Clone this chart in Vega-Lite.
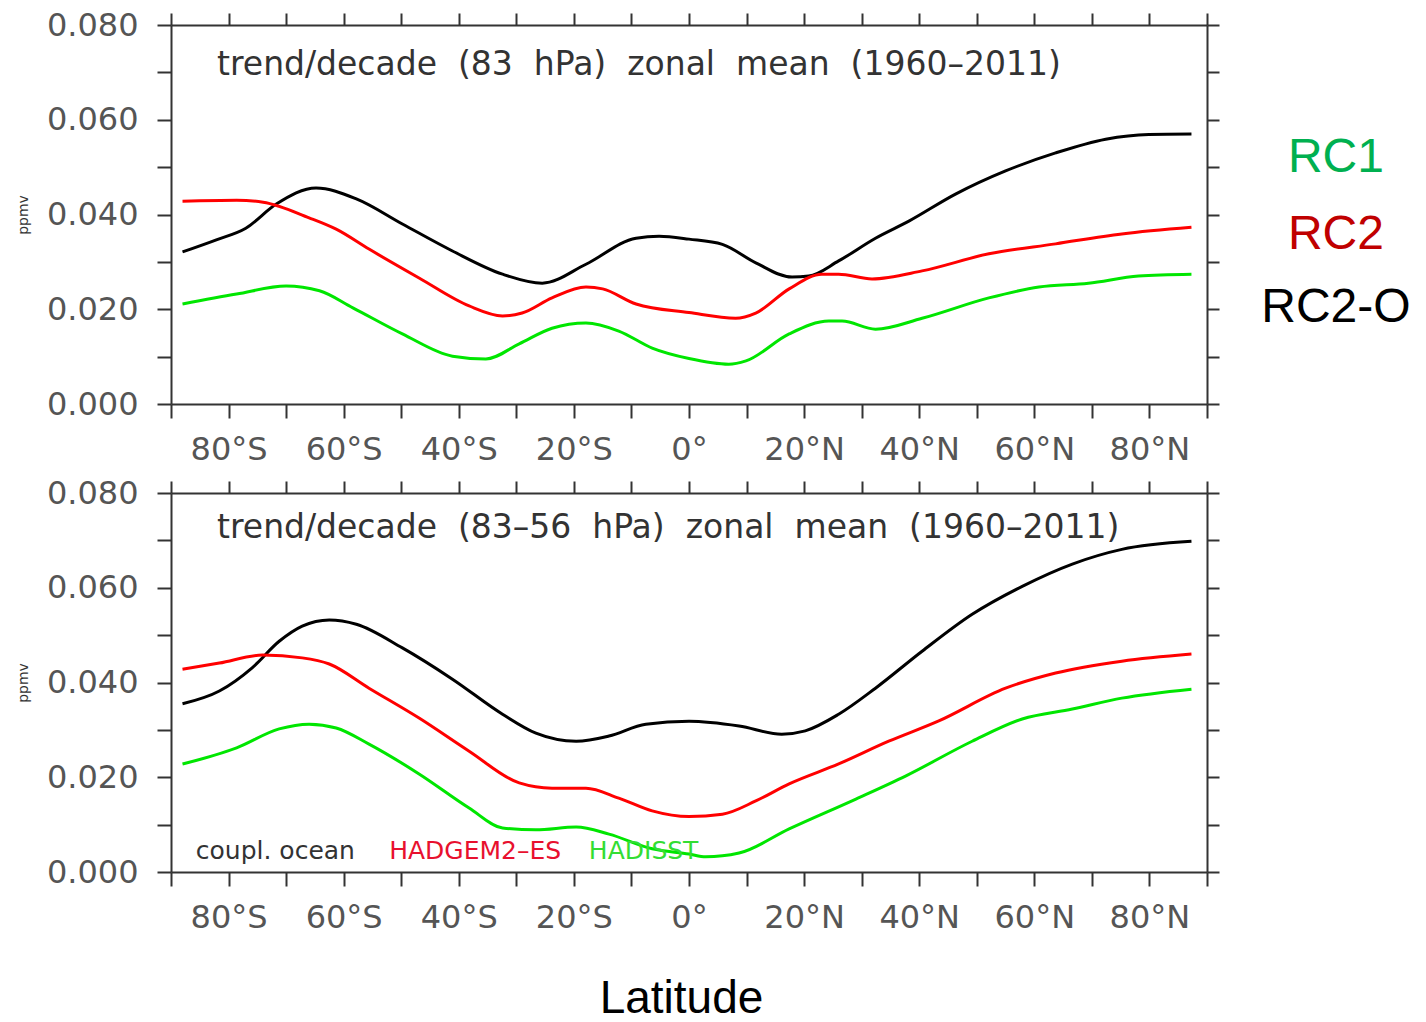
{
  "$schema": "https://vega.github.io/schema/vega-lite/v6.json",
  "background": "white",
  "padding": {"left": 16, "top": 9, "right": 5, "bottom": 0},
  "bounds": "flush",
  "spacing": 89,
  "config": {
    "view": {"stroke": null},
    "axis": {
      "grid": false,
      "domainColor": "#333333",
      "domainWidth": 2,
      "tickColor": "#333333",
      "tickWidth": 2,
      "labelFont": "DejaVu Sans",
      "labelFontSize": 32,
      "labelColor": "#555555",
      "labelOverlap": false,
      "labelBound": false,
      "labelFlush": false
    }
  },
  "datasets": {
    "curves": [
      {"panel": "top", "series": "coupl. ocean", "lat": -88, "value": 0.0321},
      {"panel": "top", "series": "coupl. ocean", "lat": -82, "value": 0.0347},
      {"panel": "top", "series": "coupl. ocean", "lat": -77, "value": 0.0371},
      {"panel": "top", "series": "coupl. ocean", "lat": -71.7, "value": 0.0422},
      {"panel": "top", "series": "coupl. ocean", "lat": -64.8, "value": 0.0456},
      {"panel": "top", "series": "coupl. ocean", "lat": -57.8, "value": 0.0433},
      {"panel": "top", "series": "coupl. ocean", "lat": -49.8, "value": 0.038},
      {"panel": "top", "series": "coupl. ocean", "lat": -41.1, "value": 0.0323},
      {"panel": "top", "series": "coupl. ocean", "lat": -32.4, "value": 0.0274},
      {"panel": "top", "series": "coupl. ocean", "lat": -25.5, "value": 0.0255},
      {"panel": "top", "series": "coupl. ocean", "lat": -17.9, "value": 0.0295},
      {"panel": "top", "series": "coupl. ocean", "lat": -9.2, "value": 0.035},
      {"panel": "top", "series": "coupl. ocean", "lat": -5.2, "value": 0.0354},
      {"panel": "top", "series": "coupl. ocean", "lat": 0, "value": 0.0348},
      {"panel": "top", "series": "coupl. ocean", "lat": 5.8, "value": 0.0337},
      {"panel": "top", "series": "coupl. ocean", "lat": 11.6, "value": 0.0298},
      {"panel": "top", "series": "coupl. ocean", "lat": 17.9, "value": 0.0268},
      {"panel": "top", "series": "coupl. ocean", "lat": 20.8, "value": 0.027},
      {"panel": "top", "series": "coupl. ocean", "lat": 26, "value": 0.0302},
      {"panel": "top", "series": "coupl. ocean", "lat": 32.4, "value": 0.035},
      {"panel": "top", "series": "coupl. ocean", "lat": 38.2, "value": 0.0386},
      {"panel": "top", "series": "coupl. ocean", "lat": 46.3, "value": 0.0443},
      {"panel": "top", "series": "coupl. ocean", "lat": 55, "value": 0.0492},
      {"panel": "top", "series": "coupl. ocean", "lat": 63.7, "value": 0.053},
      {"panel": "top", "series": "coupl. ocean", "lat": 72.4, "value": 0.0559},
      {"panel": "top", "series": "coupl. ocean", "lat": 79.9, "value": 0.0569},
      {"panel": "top", "series": "coupl. ocean", "lat": 87.3, "value": 0.057},

      {"panel": "top", "series": "HADGEM2-ES", "lat": -88, "value": 0.0428},
      {"panel": "top", "series": "HADGEM2-ES", "lat": -78.6, "value": 0.043},
      {"panel": "top", "series": "HADGEM2-ES", "lat": -74, "value": 0.0426},
      {"panel": "top", "series": "HADGEM2-ES", "lat": -66, "value": 0.0393},
      {"panel": "top", "series": "HADGEM2-ES", "lat": -61.3, "value": 0.0369},
      {"panel": "top", "series": "HADGEM2-ES", "lat": -55.6, "value": 0.0327},
      {"panel": "top", "series": "HADGEM2-ES", "lat": -46.9, "value": 0.0266},
      {"panel": "top", "series": "HADGEM2-ES", "lat": -38.2, "value": 0.0207},
      {"panel": "top", "series": "HADGEM2-ES", "lat": -32.4, "value": 0.0186},
      {"panel": "top", "series": "HADGEM2-ES", "lat": -29, "value": 0.0192},
      {"panel": "top", "series": "HADGEM2-ES", "lat": -23.8, "value": 0.0224},
      {"panel": "top", "series": "HADGEM2-ES", "lat": -17.9, "value": 0.0247},
      {"panel": "top", "series": "HADGEM2-ES", "lat": -15, "value": 0.0243},
      {"panel": "top", "series": "HADGEM2-ES", "lat": -9.2, "value": 0.0211},
      {"panel": "top", "series": "HADGEM2-ES", "lat": 0, "value": 0.0193},
      {"panel": "top", "series": "HADGEM2-ES", "lat": 8.1, "value": 0.0181},
      {"panel": "top", "series": "HADGEM2-ES", "lat": 11.6, "value": 0.0192},
      {"panel": "top", "series": "HADGEM2-ES", "lat": 17.4, "value": 0.0243},
      {"panel": "top", "series": "HADGEM2-ES", "lat": 23.1, "value": 0.0274},
      {"panel": "top", "series": "HADGEM2-ES", "lat": 26, "value": 0.0274},
      {"panel": "top", "series": "HADGEM2-ES", "lat": 31.8, "value": 0.0264},
      {"panel": "top", "series": "HADGEM2-ES", "lat": 40.5, "value": 0.0281},
      {"panel": "top", "series": "HADGEM2-ES", "lat": 52.1, "value": 0.0317},
      {"panel": "top", "series": "HADGEM2-ES", "lat": 63.7, "value": 0.0338},
      {"panel": "top", "series": "HADGEM2-ES", "lat": 75.2, "value": 0.0359},
      {"panel": "top", "series": "HADGEM2-ES", "lat": 87.3, "value": 0.0373},

      {"panel": "top", "series": "HADISST", "lat": -88, "value": 0.0211},
      {"panel": "top", "series": "HADISST", "lat": -78.6, "value": 0.0232},
      {"panel": "top", "series": "HADISST", "lat": -70, "value": 0.0249},
      {"panel": "top", "series": "HADISST", "lat": -64.2, "value": 0.0239},
      {"panel": "top", "series": "HADISST", "lat": -58.4, "value": 0.0203},
      {"panel": "top", "series": "HADISST", "lat": -49.8, "value": 0.0148},
      {"panel": "top", "series": "HADISST", "lat": -41.1, "value": 0.0101},
      {"panel": "top", "series": "HADISST", "lat": -35.3, "value": 0.0095},
      {"panel": "top", "series": "HADISST", "lat": -29.5, "value": 0.0127},
      {"panel": "top", "series": "HADISST", "lat": -23.8, "value": 0.016},
      {"panel": "top", "series": "HADISST", "lat": -17.9, "value": 0.0171},
      {"panel": "top", "series": "HADISST", "lat": -12.2, "value": 0.0154},
      {"panel": "top", "series": "HADISST", "lat": -6.4, "value": 0.0118},
      {"panel": "top", "series": "HADISST", "lat": 0, "value": 0.0096},
      {"panel": "top", "series": "HADISST", "lat": 6.9, "value": 0.0084},
      {"panel": "top", "series": "HADISST", "lat": 9.9, "value": 0.0091},
      {"panel": "top", "series": "HADISST", "lat": 17.4, "value": 0.0148},
      {"panel": "top", "series": "HADISST", "lat": 24.3, "value": 0.0175},
      {"panel": "top", "series": "HADISST", "lat": 26.6, "value": 0.0175},
      {"panel": "top", "series": "HADISST", "lat": 32.4, "value": 0.0158},
      {"panel": "top", "series": "HADISST", "lat": 40.5, "value": 0.0181},
      {"panel": "top", "series": "HADISST", "lat": 52.1, "value": 0.0224},
      {"panel": "top", "series": "HADISST", "lat": 60.8, "value": 0.0247},
      {"panel": "top", "series": "HADISST", "lat": 69.4, "value": 0.0255},
      {"panel": "top", "series": "HADISST", "lat": 78.1, "value": 0.027},
      {"panel": "top", "series": "HADISST", "lat": 87.3, "value": 0.0274},

      {"panel": "bottom", "series": "coupl. ocean", "lat": -88, "value": 0.0355},
      {"panel": "bottom", "series": "coupl. ocean", "lat": -81.6, "value": 0.0382},
      {"panel": "bottom", "series": "coupl. ocean", "lat": -75.9, "value": 0.0431},
      {"panel": "bottom", "series": "coupl. ocean", "lat": -71.2, "value": 0.0487},
      {"panel": "bottom", "series": "coupl. ocean", "lat": -67.2, "value": 0.0519},
      {"panel": "bottom", "series": "coupl. ocean", "lat": -62.5, "value": 0.0532},
      {"panel": "bottom", "series": "coupl. ocean", "lat": -57.8, "value": 0.0523},
      {"panel": "bottom", "series": "coupl. ocean", "lat": -49.8, "value": 0.0473},
      {"panel": "bottom", "series": "coupl. ocean", "lat": -41.1, "value": 0.0407},
      {"panel": "bottom", "series": "coupl. ocean", "lat": -32.4, "value": 0.0333},
      {"panel": "bottom", "series": "coupl. ocean", "lat": -26.6, "value": 0.0293},
      {"panel": "bottom", "series": "coupl. ocean", "lat": -19.6, "value": 0.0276},
      {"panel": "bottom", "series": "coupl. ocean", "lat": -13.9, "value": 0.0287},
      {"panel": "bottom", "series": "coupl. ocean", "lat": -7.5, "value": 0.0312},
      {"panel": "bottom", "series": "coupl. ocean", "lat": 0, "value": 0.0318},
      {"panel": "bottom", "series": "coupl. ocean", "lat": 8.7, "value": 0.0308},
      {"panel": "bottom", "series": "coupl. ocean", "lat": 16.1, "value": 0.0291},
      {"panel": "bottom", "series": "coupl. ocean", "lat": 20.2, "value": 0.0298},
      {"panel": "bottom", "series": "coupl. ocean", "lat": 26, "value": 0.0333},
      {"panel": "bottom", "series": "coupl. ocean", "lat": 32.4, "value": 0.0388},
      {"panel": "bottom", "series": "coupl. ocean", "lat": 40.5, "value": 0.0466},
      {"panel": "bottom", "series": "coupl. ocean", "lat": 49.2, "value": 0.0544},
      {"panel": "bottom", "series": "coupl. ocean", "lat": 57.9, "value": 0.0603},
      {"panel": "bottom", "series": "coupl. ocean", "lat": 66.6, "value": 0.065},
      {"panel": "bottom", "series": "coupl. ocean", "lat": 75.2, "value": 0.0681},
      {"panel": "bottom", "series": "coupl. ocean", "lat": 87.3, "value": 0.0698},

      {"panel": "bottom", "series": "HADGEM2-ES", "lat": -88, "value": 0.0428},
      {"panel": "bottom", "series": "HADGEM2-ES", "lat": -81.6, "value": 0.0441},
      {"panel": "bottom", "series": "HADGEM2-ES", "lat": -74.1, "value": 0.0458},
      {"panel": "bottom", "series": "HADGEM2-ES", "lat": -67.2, "value": 0.0452},
      {"panel": "bottom", "series": "HADGEM2-ES", "lat": -62.5, "value": 0.0439},
      {"panel": "bottom", "series": "HADGEM2-ES", "lat": -55.6, "value": 0.0388},
      {"panel": "bottom", "series": "HADGEM2-ES", "lat": -46.9, "value": 0.0325},
      {"panel": "bottom", "series": "HADGEM2-ES", "lat": -38.2, "value": 0.0255},
      {"panel": "bottom", "series": "HADGEM2-ES", "lat": -29.5, "value": 0.0188},
      {"panel": "bottom", "series": "HADGEM2-ES", "lat": -23.8, "value": 0.0177},
      {"panel": "bottom", "series": "HADGEM2-ES", "lat": -17.9, "value": 0.0177},
      {"panel": "bottom", "series": "HADGEM2-ES", "lat": -12.2, "value": 0.0156},
      {"panel": "bottom", "series": "HADGEM2-ES", "lat": -6.4, "value": 0.0129},
      {"panel": "bottom", "series": "HADGEM2-ES", "lat": 0, "value": 0.0117},
      {"panel": "bottom", "series": "HADGEM2-ES", "lat": 5.8, "value": 0.0122},
      {"panel": "bottom", "series": "HADGEM2-ES", "lat": 11.6, "value": 0.015},
      {"panel": "bottom", "series": "HADGEM2-ES", "lat": 17.4, "value": 0.0186},
      {"panel": "bottom", "series": "HADGEM2-ES", "lat": 26, "value": 0.0228},
      {"panel": "bottom", "series": "HADGEM2-ES", "lat": 34.7, "value": 0.0276},
      {"panel": "bottom", "series": "HADGEM2-ES", "lat": 43.4, "value": 0.0319},
      {"panel": "bottom", "series": "HADGEM2-ES", "lat": 55, "value": 0.0388},
      {"panel": "bottom", "series": "HADGEM2-ES", "lat": 63.7, "value": 0.042},
      {"panel": "bottom", "series": "HADGEM2-ES", "lat": 75.2, "value": 0.0445},
      {"panel": "bottom", "series": "HADGEM2-ES", "lat": 87.3, "value": 0.046},

      {"panel": "bottom", "series": "HADISST", "lat": -88, "value": 0.0228},
      {"panel": "bottom", "series": "HADISST", "lat": -78.6, "value": 0.0262},
      {"panel": "bottom", "series": "HADISST", "lat": -71.2, "value": 0.0302},
      {"panel": "bottom", "series": "HADISST", "lat": -66, "value": 0.0312},
      {"panel": "bottom", "series": "HADISST", "lat": -61.3, "value": 0.0304},
      {"panel": "bottom", "series": "HADISST", "lat": -55.6, "value": 0.027},
      {"panel": "bottom", "series": "HADISST", "lat": -46.9, "value": 0.0207},
      {"panel": "bottom", "series": "HADISST", "lat": -38.2, "value": 0.0135},
      {"panel": "bottom", "series": "HADISST", "lat": -32.4, "value": 0.0093},
      {"panel": "bottom", "series": "HADISST", "lat": -26.6, "value": 0.0089},
      {"panel": "bottom", "series": "HADISST", "lat": -19.6, "value": 0.0095},
      {"panel": "bottom", "series": "HADISST", "lat": -13.9, "value": 0.008},
      {"panel": "bottom", "series": "HADISST", "lat": -6.4, "value": 0.0049},
      {"panel": "bottom", "series": "HADISST", "lat": 0, "value": 0.0038},
      {"panel": "bottom", "series": "HADISST", "lat": 2.9, "value": 0.0032},
      {"panel": "bottom", "series": "HADISST", "lat": 8.7, "value": 0.004},
      {"panel": "bottom", "series": "HADISST", "lat": 17.4, "value": 0.0091},
      {"panel": "bottom", "series": "HADISST", "lat": 29, "value": 0.0154},
      {"panel": "bottom", "series": "HADISST", "lat": 37.7, "value": 0.0203},
      {"panel": "bottom", "series": "HADISST", "lat": 49.2, "value": 0.0276},
      {"panel": "bottom", "series": "HADISST", "lat": 57.9, "value": 0.0323},
      {"panel": "bottom", "series": "HADISST", "lat": 66.6, "value": 0.0344},
      {"panel": "bottom", "series": "HADISST", "lat": 75.2, "value": 0.0367},
      {"panel": "bottom", "series": "HADISST", "lat": 87.3, "value": 0.0386}
    ]
  },
  "vconcat": [
    {
      "width": 1036,
      "height": 379,
      "data": {"name": "curves"},
      "transform": [{"filter": "datum.panel == 'top'"}],
      "resolve": {"axis": {"x": "independent", "y": "independent"}},
      "layer": [
        {
          "mark": {"type": "line", "interpolate": "monotone", "strokeWidth": 3},
          "encoding": {
            "x": {"field": "lat", "type": "quantitative", "scale": {"domain": [-90, 90], "nice": false, "zero": false},
              "axis": {"orient": "bottom", "title": null, "values": [-90,-80,-70,-60,-50,-40,-30,-20,-10,0,10,20,30,40,50,60,70,80,90], "tickSize": 14, "labelPadding": 16,
                "labelExpr": "(datum.value % 20 == 0 && abs(datum.value) < 90) ? (datum.value == 0 ? '0°' : abs(datum.value) + (datum.value < 0 ? '°S' : '°N')) : ''"}},
            "y": {"field": "value", "type": "quantitative", "scale": {"domain": [0, 0.08], "nice": false, "zero": false},
              "axis": {"orient": "left", "values": [0,0.01,0.02,0.03,0.04,0.05,0.06,0.07,0.08], "tickSize": 14, "labelPadding": 19,
                "labelExpr": "(round(datum.value*100) % 2 == 0) ? format(datum.value, '.3f') : ''",
                "title": "ppmv", "titleFont": "DejaVu Sans", "titleFontSize": 14, "titleFontWeight": "normal", "titleColor": "#333333",
                "titleAngle": -90, "titleX": -144, "titleY": 189.5, "titleAlign": "center", "titleBaseline": "alphabetic"}},
            "color": {"field": "series", "type": "nominal", "scale": {"domain": ["coupl. ocean", "HADGEM2-ES", "HADISST"], "range": ["#000000", "#ff0000", "#00e600"]}, "legend": null}
          }
        },
        {
          "mark": {"type": "line", "opacity": 0},
          "encoding": {
            "x": {"field": "lat", "type": "quantitative", "axis": {"orient": "top", "title": null, "values": [-90,-80,-70,-60,-50,-40,-30,-20,-10,0,10,20,30,40,50,60,70,80,90], "tickSize": 12, "labels": false}},
            "y": {"field": "value", "type": "quantitative", "axis": {"orient": "right", "title": null, "values": [0,0.01,0.02,0.03,0.04,0.05,0.06,0.07,0.08], "tickSize": 12, "labels": false}},
            "detail": {"field": "series"}
          }
        },
        {
          "data": {"values": [{}]},
          "mark": {"type": "text", "align": "left", "baseline": "alphabetic", "font": "DejaVu Sans", "fontSize": 33, "color": "#333333"},
          "encoding": {
            "x": {"datum": -82, "axis": null},
            "y": {"datum": 0.0694, "axis": null},
            "text": {"value": "trend/decade \u00a0(83 \u00a0hPa) \u00a0zonal \u00a0mean \u00a0(1960–2011)"}
          }
        },
        {
          "data": {"values": [{}]},
          "mark": {"type": "text", "align": "center", "baseline": "alphabetic", "font": "Liberation Sans", "fontSize": 48, "color": "#00b050"},
          "encoding": {"x": {"datum": 112.4, "axis": null}, "y": {"datum": 0.049, "axis": null}, "text": {"value": "RC1"}}
        },
        {
          "data": {"values": [{}]},
          "mark": {"type": "text", "align": "center", "baseline": "alphabetic", "font": "Liberation Sans", "fontSize": 48, "color": "#c00000"},
          "encoding": {"x": {"datum": 112.4, "axis": null}, "y": {"datum": 0.0327, "axis": null}, "text": {"value": "RC2"}}
        },
        {
          "data": {"values": [{}]},
          "mark": {"type": "text", "align": "center", "baseline": "alphabetic", "font": "Liberation Sans", "fontSize": 48, "color": "#000000"},
          "encoding": {"x": {"datum": 112.4, "axis": null}, "y": {"datum": 0.0173, "axis": null}, "text": {"value": "RC2-O"}}
        }
      ]
    },
    {
      "width": 1036,
      "height": 379,
      "data": {"name": "curves"},
      "transform": [{"filter": "datum.panel == 'bottom'"}],
      "resolve": {"axis": {"x": "independent", "y": "independent"}},
      "layer": [
        {
          "mark": {"type": "line", "interpolate": "monotone", "strokeWidth": 3},
          "encoding": {
            "x": {"field": "lat", "type": "quantitative", "scale": {"domain": [-90, 90], "nice": false, "zero": false},
              "axis": {"orient": "bottom", "values": [-90,-80,-70,-60,-50,-40,-30,-20,-10,0,10,20,30,40,50,60,70,80,90], "tickSize": 14, "labelPadding": 16,
                "labelExpr": "(datum.value % 20 == 0 && abs(datum.value) < 90) ? (datum.value == 0 ? '0°' : abs(datum.value) + (datum.value < 0 ? '°S' : '°N')) : ''",
                "title": "Latitude", "titleFont": "Liberation Sans", "titleFontSize": 46, "titleFontWeight": "normal", "titleColor": "#000000",
                "titleX": 510, "titleY": 150, "titleAlign": "center", "titleBaseline": "bottom"}},
            "y": {"field": "value", "type": "quantitative", "scale": {"domain": [0, 0.08], "nice": false, "zero": false},
              "axis": {"orient": "left", "values": [0,0.01,0.02,0.03,0.04,0.05,0.06,0.07,0.08], "tickSize": 14, "labelPadding": 19,
                "labelExpr": "(round(datum.value*100) % 2 == 0) ? format(datum.value, '.3f') : ''",
                "title": "ppmv", "titleFont": "DejaVu Sans", "titleFontSize": 14, "titleFontWeight": "normal", "titleColor": "#333333",
                "titleAngle": -90, "titleX": -144, "titleY": 189.5, "titleAlign": "center", "titleBaseline": "alphabetic"}},
            "color": {"field": "series", "type": "nominal", "scale": {"domain": ["coupl. ocean", "HADGEM2-ES", "HADISST"], "range": ["#000000", "#ff0000", "#00e600"]}, "legend": null}
          }
        },
        {
          "mark": {"type": "line", "opacity": 0},
          "encoding": {
            "x": {"field": "lat", "type": "quantitative", "axis": {"orient": "top", "title": null, "values": [-90,-80,-70,-60,-50,-40,-30,-20,-10,0,10,20,30,40,50,60,70,80,90], "tickSize": 12, "labels": false}},
            "y": {"field": "value", "type": "quantitative", "axis": {"orient": "right", "title": null, "values": [0,0.01,0.02,0.03,0.04,0.05,0.06,0.07,0.08], "tickSize": 12, "labels": false}},
            "detail": {"field": "series"}
          }
        },
        {
          "data": {"values": [{}]},
          "mark": {"type": "text", "align": "left", "baseline": "alphabetic", "font": "DejaVu Sans", "fontSize": 33, "color": "#333333"},
          "encoding": {
            "x": {"datum": -82, "axis": null},
            "y": {"datum": 0.0705, "axis": null},
            "text": {"value": "trend/decade \u00a0(83–56 \u00a0hPa) \u00a0zonal \u00a0mean \u00a0(1960–2011)"}
          }
        },
        {
          "data": {"values": [{}]},
          "mark": {"type": "text", "align": "left", "baseline": "alphabetic", "font": "DejaVu Sans", "fontSize": 25, "color": "#333333"},
          "encoding": {"x": {"datum": -85.7, "axis": null}, "y": {"datum": 0.0027, "axis": null}, "text": {"value": "coupl. ocean"}}
        },
        {
          "data": {"values": [{}]},
          "mark": {"type": "text", "align": "left", "baseline": "alphabetic", "font": "DejaVu Sans", "fontSize": 25, "color": "#e8102e"},
          "encoding": {"x": {"datum": -52.1, "axis": null}, "y": {"datum": 0.0027, "axis": null}, "text": {"value": "HADGEM2–ES"}}
        },
        {
          "data": {"values": [{}]},
          "mark": {"type": "text", "align": "left", "baseline": "alphabetic", "font": "DejaVu Sans", "fontSize": 25, "color": "#33dd33"},
          "encoding": {"x": {"datum": -17.4, "axis": null}, "y": {"datum": 0.0027, "axis": null}, "text": {"value": "HADISST"}}
        }
      ]
    }
  ]
}
